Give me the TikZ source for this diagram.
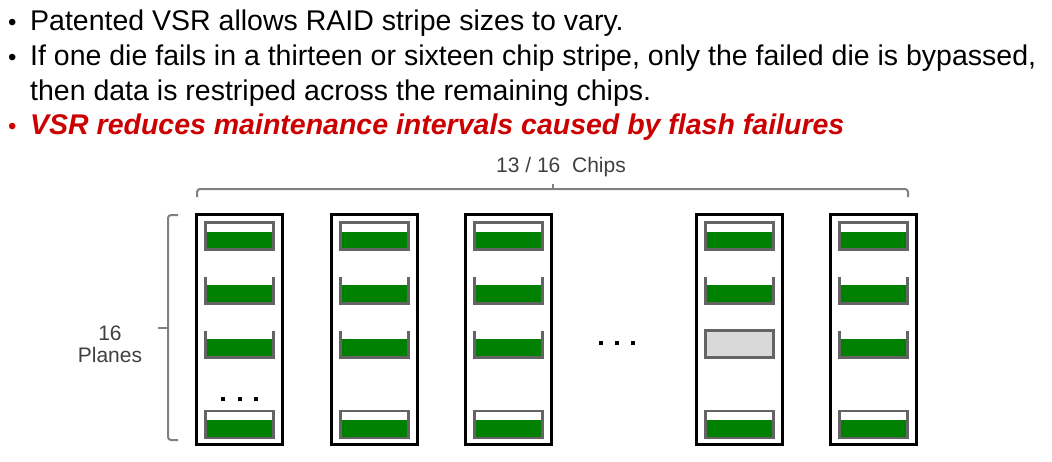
\documentclass[tikz,border=0pt]{standalone}
\usepackage{fontspec}
\setmainfont{Liberation Sans}
\usetikzlibrary{calc}

\definecolor{flashgreen}{RGB}{0,128,0}
\definecolor{framegray}{RGB}{100,100,100}
\definecolor{bracegray}{RGB}{128,128,128}
\definecolor{labelgray}{RGB}{64,64,64}
\definecolor{alertred}{RGB}{204,0,0}
\definecolor{deadgray}{RGB}{217,217,217}

\begin{document}
\begin{tikzpicture}[x=1pt,y=-1pt,
  bodytext/.style={anchor=base west, inner sep=0pt, font=\fontsize{28.5}{32}\selectfont},
  alerttext/.style={bodytext, text=alertred, font=\fontsize{28.5}{32}\selectfont\bfseries\itshape},
  caption/.style={inner sep=0pt, text=labelgray, font=\fontsize{21}{25}\selectfont, align=center},
  chipbox/.style={draw=black, line width=3pt, minimum width=86pt, minimum height=230pt, inner sep=0pt},
  planeslot/.style={inner sep=0pt, minimum width=67.5pt, minimum height=26.5pt},
  planeframe/.style={draw=framegray, line width=2.5pt},
  bracket/.style={draw=bracegray, line width=2pt, rounded corners=3pt},
  dotsq/.style={fill=black, inner sep=0pt, minimum size=4pt}
]
\useasboundingbox (0,0) rectangle (1052,461);

% bullet list
\node[bodytext, font=\fontsize{24}{28}\selectfont] (b1) at (8,30) {•};
\node[bodytext] (t1) at (30,30) {Patented VSR allows RAID stripe sizes to vary.};
\node[bodytext, font=\fontsize{24}{28}\selectfont] (b2) at (8,65) {•};
\node[bodytext] (t2) at (30,65) {If one die fails in a thirteen or sixteen chip stripe, only the failed die is bypassed,};
\node[bodytext] (t3) at (30,100) {then data is restriped across the remaining chips.};
\node[alerttext, font=\fontsize{24}{28}\selectfont] (b4) at (8,134) {•};
\node[alerttext] (t4) at (30,134) {VSR reduces maintenance intervals caused by flash failures};

% chips (columns)
\foreach \c/\x in {1/239.5, 2/374.5, 3/508.5, 4/739.5, 5/873.5} {
  \node[chipbox] (chip\c) at (\x,329.5) {};
  \foreach \r/\y in {1/236, 2/290, 3/344, 4/424.5} {
    \node[planeslot] (p\c\r) at (\x,\y) {};
  }
}

% planes: closed tanks (top and bottom row)
\foreach \c in {1,2,3,4,5} {
  \foreach \r in {1,4} {
    \fill[flashgreen] ($(p\c\r.north west)+(0,9)$) rectangle (p\c\r.south east);
    \draw[planeframe] (p\c\r.south west) rectangle (p\c\r.north east);
  }
}
% planes: open tanks (middle rows)
\foreach \c/\r in {1/2,1/3,2/2,2/3,3/2,3/3,4/2,5/2,5/3} {
  \fill[flashgreen] ($(p\c\r.north west)+(0,8)$) rectangle (p\c\r.south east);
  \draw[planeframe] (p\c\r.north west) -- (p\c\r.south west) -- (p\c\r.south east) -- (p\c\r.north east);
}
% the failed die, bypassed
\draw[planeframe, fill=deadgray] (p43.south west) rectangle (p43.north east);

% ellipses
\node[dotsq] (d1) at (223,399) {};
\node[dotsq] (d2) at (240,399) {};
\node[dotsq] (d3) at (256,399) {};
\node[dotsq] (m1) at (601,343) {};
\node[dotsq] (m2) at (617,343) {};
\node[dotsq] (m3) at (633,343) {};

% brace over the chips
\coordinate (tbL) at (197,197);
\coordinate (tbR) at (908,197);
\coordinate (tbM) at (553,189);
\draw[bracket] (tbL) -- (197,189) -- (908,189) -- (tbR);
\draw[draw=bracegray, line width=1.5pt] (tbM) -- ++(0,-5);
\node[caption] (chipsLabel) at (561,167) {13 / 16\ \ Chips};

% brace beside the planes
\coordinate (lbT) at (178,215);
\coordinate (lbB) at (178,440);
\coordinate (lbM) at (168,328);
\draw[bracket] (lbT) -- (168,215) -- (168,440) -- (lbB);
\draw[draw=bracegray, line width=2pt] (lbM) -- ++(-10,0);
\node[caption] (planesLabel) at (110,344) {16\\[-3pt]Planes};
\end{tikzpicture}
\end{document}
